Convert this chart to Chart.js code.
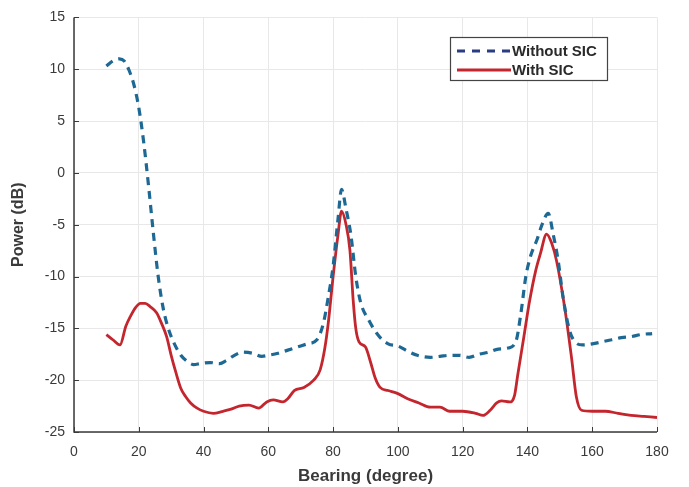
<!DOCTYPE html>
<html>
<head>
<meta charset="utf-8">
<script src="https://cdn.jsdelivr.net/npm/chart.js@4"></script>
<style>
html,body{margin:0;padding:0;background:#fff;}
#wrap{width:689px;height:487px;}
</style>
</head>
<body>
<div id="wrap"><canvas id="c" width="689" height="487"></canvas></div>
<script>
const seriesLabels = ["Without SIC", "With SIC"];
const xTicks = [0,20,40,60,80,100,120,140,160,180];
const yTicks = [15,10,5,0,-5,-10,-15,-20,-25];

const bearingWithout = [10,12,14,15.5,17,18.5,20,21.5,23,24.5,26,27.5,29,31,33,35,37,39,42,45,47,49,52,55,58,60,63,66,69,72,75,77,78.5,80,81.5,82.6,84,85.5,87,88.5,91,94,97,100,103,106,110,113,116,119,122,125,128,131,134,136.5,138,139.5,141,143,144.5,146.4,148,149.5,151,153,155,157,160,163,166,169,172,175,178.5];
const powerWithout = [10.3,10.8,11.0,10.8,9.9,8.5,6.3,3.0,-1.2,-5.8,-10.0,-13.0,-14.9,-16.5,-17.6,-18.2,-18.5,-18.4,-18.3,-18.4,-18.1,-17.7,-17.3,-17.4,-17.7,-17.6,-17.4,-17.1,-16.8,-16.5,-16.1,-14.5,-12.0,-9.0,-4.5,-1.6,-3.5,-6.0,-10.0,-12.5,-14.2,-15.7,-16.5,-16.7,-17.2,-17.6,-17.8,-17.7,-17.6,-17.6,-17.8,-17.5,-17.3,-17.0,-16.9,-16.2,-13.5,-10.0,-8.0,-6.4,-5.0,-3.9,-6.0,-8.5,-12.0,-15.2,-16.4,-16.6,-16.5,-16.3,-16.1,-15.9,-15.8,-15.6,-15.5];

const bearingWith = [10,12,14.2,16,17.5,19,20.5,22,23.5,25.5,27,28.6,30,31.5,33,34.5,36,38,40,43,46,48.5,51,54,57,59.5,61.5,64.5,66,68,71,74,76,77.5,78.5,80,81.5,82.6,84,85.2,86.2,87,88,90,91.5,93,94.5,97,100,103,106.5,110,113,116,120,124,126.3,128.5,130.5,132,134.5,136,137,138.7,140.7,142.5,144,145.9,147.5,149,151.5,153.6,155.1,156.7,160,164,168,172,176,180];
const powerWith = [-15.6,-16.1,-16.6,-14.8,-13.8,-13.0,-12.6,-12.6,-12.9,-13.5,-14.5,-15.8,-17.6,-19.3,-20.8,-21.6,-22.2,-22.7,-23.0,-23.2,-23.0,-22.8,-22.5,-22.4,-22.7,-22.1,-21.9,-22.1,-21.8,-21.0,-20.7,-20.0,-19.0,-16.8,-14.5,-10.0,-6.0,-3.7,-5.0,-7.5,-12.3,-15.0,-16.3,-16.8,-18.2,-19.8,-20.7,-21.0,-21.3,-21.8,-22.2,-22.6,-22.6,-23.0,-23.0,-23.2,-23.4,-22.9,-22.2,-22.0,-22.1,-21.5,-19.5,-16.2,-12.3,-9.5,-7.8,-5.9,-6.8,-8.5,-13.0,-17.8,-21.6,-22.9,-23.0,-23.0,-23.2,-23.4,-23.5,-23.6];

const toPts = (xs, ys) => xs.map((x, i) => ({x: x, y: ys[i]}));

const blueColor = '#1e6894';
const redColor = '#c4262e';
const FONT = "'Liberation Sans', Arial, sans-serif";
const TEXT = '#3a3a3a';

const inwardTicks = {
  id: 'inwardTicks',
  afterDatasetsDraw(chart) {
    const ctx = chart.ctx, a = chart.chartArea;
    const xs = chart.scales.x, ys = chart.scales.y;
    ctx.save();
    ctx.strokeStyle = '#3a3a3a';
    ctx.lineWidth = 1;
    ctx.beginPath();
    xTicks.forEach(v => {
      const px = Math.round(xs.getPixelForValue(v)) + 0.5;
      ctx.moveTo(px, a.bottom); ctx.lineTo(px, a.bottom - 5);
    });
    yTicks.forEach(v => {
      const py = Math.round(ys.getPixelForValue(v)) + 0.5;
      ctx.moveTo(a.left, py); ctx.lineTo(a.left + 5, py);
    });
    ctx.stroke();
    ctx.lineWidth = 1.5;
    ctx.beginPath();
    ctx.moveTo(a.left, a.top); ctx.lineTo(a.left, a.bottom); ctx.lineTo(a.right, a.bottom);
    ctx.stroke();
    ctx.restore();
  }
};

const boxLegend = {
  id: 'boxLegend',
  afterDraw(chart) {
    const ctx = chart.ctx;
    const x0 = 450, y0 = 37, w = 157, h = 43;
    ctx.save();
    ctx.fillStyle = '#fff';
    ctx.fillRect(x0, y0, w, h);
    ctx.strokeStyle = '#444';
    ctx.lineWidth = 1.2;
    ctx.strokeRect(x0 + 0.5, y0 + 0.5, w, h);
    const ds = chart.data.datasets;
    const rows = [51, 70];
    ds.forEach((d, i) => {
      ctx.beginPath();
      ctx.strokeStyle = i === 0 ? '#2a3c82' : d.borderColor;
      ctx.lineWidth = 3;
      ctx.setLineDash(i === 0 ? [8, 7] : []);
      ctx.moveTo(457, rows[i]); ctx.lineTo(511, rows[i]);
      ctx.stroke();
      ctx.setLineDash([]);
      ctx.fillStyle = '#2a2a2a';
      ctx.font = "bold 15px " + FONT;
      ctx.textBaseline = 'middle';
      ctx.textAlign = 'left';
      ctx.fillText(d.label, 512, rows[i] + 0.5);
    });
    ctx.restore();
  }
};

new Chart(document.getElementById('c'), {
  type: 'scatter',
  data: {
    datasets: [
      {
        label: seriesLabels[0],
        data: toPts(bearingWithout, powerWithout),
        showLine: true,
        borderColor: blueColor,
        borderWidth: 3.2,
        borderDash: [8, 6],
        pointRadius: 0,
        cubicInterpolationMode: 'monotone'
      },
      {
        label: seriesLabels[1],
        data: toPts(bearingWith, powerWith),
        showLine: true,
        borderColor: redColor,
        borderWidth: 2.8,
        pointRadius: 0,
        cubicInterpolationMode: 'monotone'
      }
    ]
  },
  options: {
    responsive: false,
    animation: false,
    devicePixelRatio: 1,
    layout: { padding: { top: 15, right: 32, left: 0, bottom: 0 } },
    plugins: { legend: { display: false }, tooltip: { enabled: false } },
    scales: {
      x: {
        type: 'linear', min: 0, max: 180,
        afterBuildTicks: s => { s.ticks = xTicks.map(v => ({value: v})); },
        afterFit: s => { s.height = 55; },
        grid: { color: '#e8e8e8', lineWidth: 1, drawTicks: false },
        border: { display: false },
        ticks: { color: TEXT, font: { family: FONT, size: 14 }, padding: 12, maxRotation: 0 },
        title: { display: true, text: 'Bearing (degree)', color: TEXT, font: { family: FONT, size: 17, weight: 'bold' }, padding: { top: 2, bottom: 0 } }
      },
      y: {
        type: 'linear', min: -25, max: 15,
        afterBuildTicks: s => { s.ticks = yTicks.map(v => ({value: v})); },
        afterFit: s => { s.width = 74; },
        grid: { color: '#e8e8e8', lineWidth: 1, drawTicks: false },
        border: { display: false },
        ticks: { color: TEXT, font: { family: FONT, size: 14 }, padding: 9 },
        title: { display: true, text: 'Power (dB)', color: TEXT, font: { family: FONT, size: 16, weight: 'bold' }, padding: { top: 9, bottom: 0 } }
      }
    }
  },
  plugins: [inwardTicks, boxLegend]
});
</script>
</body>
</html>
